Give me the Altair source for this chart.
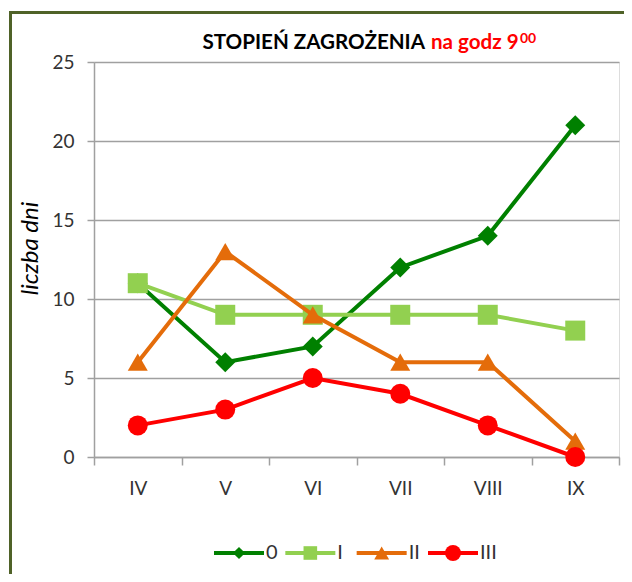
import altair as alt
import pandas as pd

# ---- data ----
months = ["IV", "V", "VI", "VII", "VIII", "IX"]
series_names = ["0", "I", "II", "III"]
s0 = [11, 6, 7, 12, 14, 21]
s1 = [11, 9, 9, 9, 9, 8]
s2 = [6, 13, 9, 6, 6, 1]
s3 = [2, 3, 5, 4, 2, 0]
y_ticks = [0, 5, 10, 15, 20, 25]
colors = ["#008000", "#92d050", "#e46c0a", "#ff0000"]
shapes = ["diamond", "square", "triangle-up", "circle"]
legend_marker_sizes = [150, 256, 256, 170]
title_main = "STOPIEŃ ZAGROŻENIA"
title_red = "na godz 9"
title_sup = "00"
y_title = "liczba dni"

rows = []
for name, vals in zip(series_names, [s0, s1, s2, s3]):
    for m, v in zip(months, vals):
        rows.append({"month": m, "series": name, "value": v})
df = pd.DataFrame(rows)
legend_df = pd.DataFrame({"series": series_names})

W, H = 525, 395
FONT = "Lato"
GRID = "#a0a0a0"
TXT = "#333333"

color_scale = alt.Scale(domain=series_names, range=colors)
shape_scale = alt.Scale(domain=series_names, range=shapes)

x_enc = alt.X(
    "month:N",
    sort=months,
    scale=alt.Scale(type="band", domain=months, paddingInner=0, paddingOuter=0),
    axis=alt.Axis(
        title=None, grid=False, tickBand="extent", tickSize=8, tickColor=GRID,
        domainColor=GRID, domainWidth=1.5, tickWidth=1.5, labelFont=FONT,
        labelFontSize=19, labelColor=TXT, labelPadding=14, labelAngle=0,
    ),
)
y_enc = alt.Y(
    "value:Q",
    scale=alt.Scale(domain=[0, 25], nice=False),
    axis=alt.Axis(
        values=y_ticks, grid=True, gridColor=GRID, gridWidth=1.5, tickSize=7,
        tickColor=GRID, tickWidth=1.5, domainColor=GRID, domainWidth=1.5,
        labelFont=FONT, labelFontSize=19, labelColor=TXT, labelPadding=13,
        title=y_title, titleFont=FONT, titleFontSize=24, titleFontStyle="italic",
        titleFontWeight="normal", titleColor="#000000", titleX=-57, titleY=186,
        titleBaseline="alphabetic",
    ),
)

base = alt.Chart(df)
series_layers = []
for name in series_names:
    sub = base.transform_filter(alt.datum.series == name)
    line = sub.mark_line(strokeWidth=4).encode(
        x=x_enc, y=y_enc,
        color=alt.Color("series:N", scale=color_scale, legend=None),
    )
    pts = sub.mark_point(filled=True, opacity=1, size=400).encode(
        x=x_enc, y=y_enc,
        color=alt.Color("series:N", scale=color_scale, legend=None),
        shape=alt.Shape("series:N", scale=shape_scale, legend=None),
    )
    series_layers += [line, pts]
main = alt.layer(*series_layers)

# ---- legend built from the series list ----
lx = alt.X("series:N", sort=series_names,
           scale=alt.Scale(type="point", domain=series_names, range=[145, 359],
                           padding=0),
           axis=None)
LEG_Y = 491
leg_base = alt.Chart(legend_df)
leg_rule = leg_base.mark_rule(strokeWidth=4, xOffset=-25, x2Offset=25).encode(
    x=lx, x2="series:N", y=alt.value(LEG_Y),
    color=alt.Color("series:N", scale=color_scale, legend=None),
)
leg_pts = leg_base.mark_point(filled=True, opacity=1).encode(
    x=lx, y=alt.value(LEG_Y),
    color=alt.Color("series:N", scale=color_scale, legend=None),
    shape=alt.Shape("series:N", scale=shape_scale, legend=None),
    size=alt.Size("series:N", scale=alt.Scale(domain=series_names,
                                               range=legend_marker_sizes),
                  legend=None),
)
leg_txt = leg_base.mark_text(align="left", baseline="middle", dx=27, font=FONT,
                             fontSize=20, color=TXT).encode(
    x=lx, y=alt.value(LEG_Y), text="series:N",
)
legend = alt.layer(leg_rule, leg_pts, leg_txt)

# ---- title pieces ----
t1 = alt.Chart(pd.DataFrame({"t": [title_main]})).mark_text(
    align="right", baseline="alphabetic", font=FONT, fontSize=20.6,
    fontWeight="bold", color="#000000").encode(
    x=alt.value(331), y=alt.value(-13), text="t:N")
t2 = alt.Chart(pd.DataFrame({"t": [title_red]})).mark_text(
    align="left", baseline="alphabetic", font=FONT, fontSize=20.6,
    fontWeight="bold", color="#ff0000").encode(
    x=alt.value(337), y=alt.value(-13), text="t:N")
t3 = alt.Chart(pd.DataFrame({"t": [title_sup]})).mark_text(
    align="left", baseline="alphabetic", font=FONT, fontSize=14,
    fontWeight="bold", color="#ff0000").encode(
    x=alt.value(426), y=alt.value(-19), text="t:N")

# ---- outer frame (left and top edges) ----
frame_df = pd.DataFrame({"a": [0]})
frame_v = alt.Chart(frame_df).mark_rule(color="#4f6228", strokeWidth=3).encode(
    x=alt.value(-83.5), y=alt.value(-49.5), y2=alt.value(520))
frame_h = alt.Chart(frame_df).mark_rule(color="#4f6228", strokeWidth=3).encode(
    y=alt.value(-49.5), x=alt.value(-85), x2=alt.value(540))

chart = alt.layer(main, legend, t1, t2, t3, frame_v, frame_h).resolve_scale(
    x="independent"
).properties(
    width=W, height=H,
    autosize=alt.AutoSizeParams(type="none"),
    padding={"left": 86, "top": 54, "right": 5, "bottom": 117},
).configure_view(stroke=None).configure(background="white")

chart.save("out.html", embed_options={"renderer": "svg", "actions": False})
